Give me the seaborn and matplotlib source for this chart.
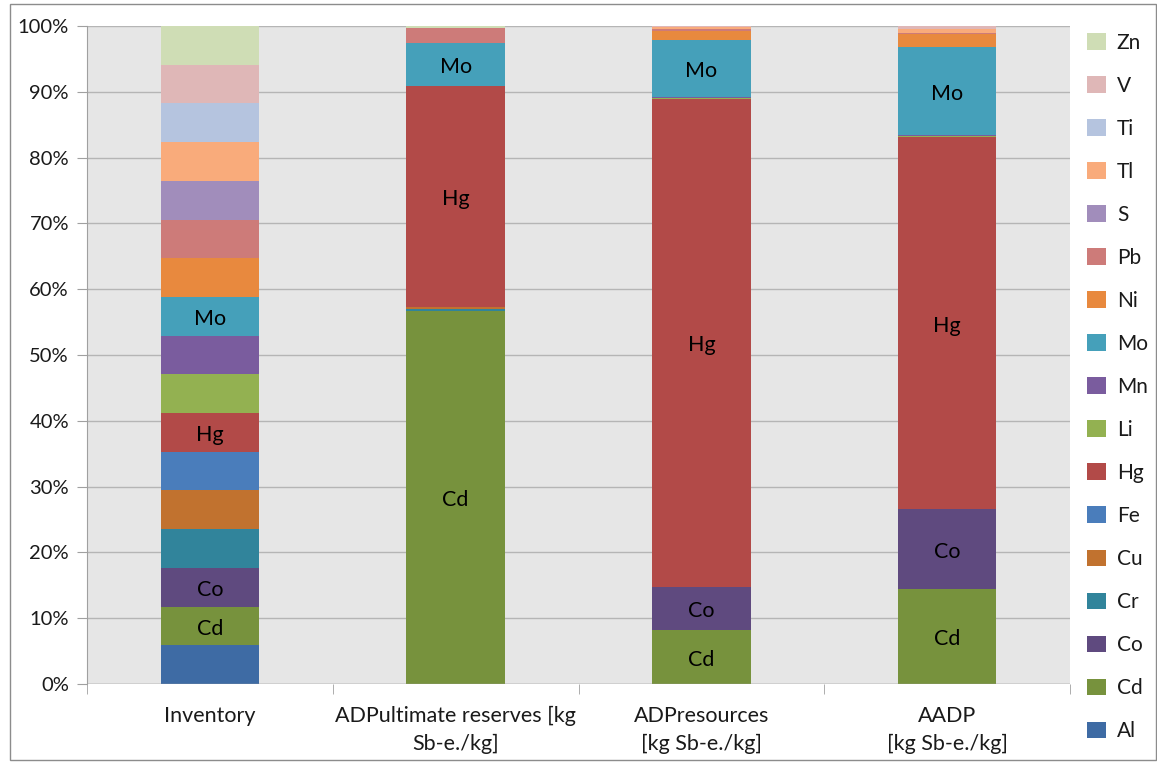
import matplotlib
matplotlib.use("Agg")
import matplotlib.pyplot as plt
from matplotlib.patches import Patch, Rectangle
from matplotlib.ticker import FixedLocator, PercentFormatter
import numpy as np
import seaborn as sns

# Categories on the x axis
categories = [
    "Inventory",
    "ADPultimate reserves [kg\nSb-e./kg]",
    "ADPresources\n[kg Sb-e./kg]",
    "AADP\n[kg Sb-e./kg]",
]

# Elements, bottom of the stack first
elements = ["Al", "Cd", "Co", "Cr", "Cu", "Fe", "Hg", "Li", "Mn", "Mo",
            "Ni", "Pb", "S", "Tl", "Ti", "V", "Zn"]

# Share of each element (%) per category
inventory = [100 / 17] * 17
adp_ultimate = [0, 56.7, 0.05, 0.3, 0.3, 0, 33.6, 0, 0, 6.5,
                0, 2.3, 0, 0, 0, 0, 0.25]
adp_resources = [0, 8.2, 6.5, 0.05, 0.05, 0, 74.1, 0.2, 0.1, 8.6,
                 1.4, 0.3, 0, 0.4, 0, 0.1, 0]
aadp = [0, 14.4, 12.2, 0, 0, 0, 56.5, 0.2, 0.1, 13.4,
        2.0, 0.1, 0, 0.6, 0, 0.5, 0]

# Elements that get a text label inside their segment
labelled = ["Cd", "Co", "Hg", "Mo"]

colors = {
    "Al": "#3E6BA4", "Cd": "#77923D", "Co": "#5F4A7F", "Cr": "#31849B",
    "Cu": "#C1722F", "Fe": "#4A7DBB", "Hg": "#B24A48", "Li": "#93B151",
    "Mn": "#7A5C9E", "Mo": "#45A0BA", "Ni": "#E8893E", "Pb": "#CD7B79",
    "S": "#A18DBB", "Tl": "#F9AB7B", "Ti": "#B5C4DF", "V": "#DFB7B7",
    "Zn": "#CFDDB5",
}

font = "Lato"
plt.rcParams["font.family"] = [font, "DejaVu Sans"]

values = np.array([inventory, adp_ultimate, adp_resources, aadp])  # (cat, elem)
cum = np.cumsum(values, axis=1)

fig = plt.figure(figsize=(11.57, 7.64), dpi=100)
fig.patch.set_facecolor("white")
ax = fig.add_axes([0.0752, 0.1047, 0.8496, 0.8613])
ax.set_facecolor("#E6E6E6")

# Draw cumulative bars from the top of the stack downwards
for j in range(len(elements) - 1, -1, -1):
    sns.barplot(x=categories, y=cum[:, j], color=colors[elements[j]],
                saturation=1, width=0.4, ax=ax, linewidth=0, zorder=3)

# Segment labels
for i in range(len(categories)):
    for j, el in enumerate(elements):
        if el in labelled and values[i, j] >= 3:
            mid = cum[i, j] - values[i, j] / 2
            ax.text(i, mid - 0.4, el, ha="center", va="center", fontsize=15.5,
                    color="black", zorder=5)

ax.set_xlim(-0.5, 3.5)
ax.set_ylim(0, 100)
ax.yaxis.set_major_locator(FixedLocator(np.arange(0, 101, 10)))
ax.yaxis.set_major_formatter(PercentFormatter(decimals=0))
ax.grid(axis="y", color="#B5B5B5", linewidth=1, zorder=0)
ax.grid(axis="x", visible=False)
ax.set_axisbelow(True)

for side in ["top", "right", "bottom"]:
    ax.spines[side].set_visible(False)
ax.spines["left"].set_color("#A0A0A0")
ax.axhline(0, color="#A0A0A0", linewidth=1, zorder=4)

ax.tick_params(axis="y", length=7, color="#A0A0A0", labelsize=14.5,
               labelcolor="#1A1A1A", pad=6)
ax.set_xticks(range(len(categories)))
ax.set_xticklabels(categories, fontsize=15.5, color="#1A1A1A",
                   linespacing=1.45)
ax.tick_params(axis="x", which="major", length=0, pad=16)
ax.set_xticks(np.arange(-0.5, 3.6, 1), minor=True)
ax.tick_params(axis="x", which="minor", length=7, color="#A0A0A0")
ax.set_xlabel("")
ax.set_ylabel("")

# Legend, top of the stack first
handles = [Patch(facecolor=colors[e], edgecolor="none") for e in elements[::-1]]
leg = fig.legend(handles, elements[::-1], loc="upper left",
                 bbox_to_anchor=(0.932, 0.968), frameon=False, fontsize=15,
                 handlelength=0.95, handleheight=0.85, handletextpad=0.5,
                 labelspacing=1.105, borderaxespad=0)
for t in leg.get_texts():
    t.set_color("#1A1A1A")

# Chart frame
fig.patches.append(Rectangle((10 / 1157, 4 / 764), 1 - 11 / 1157, 1 - 8 / 764,
                             transform=fig.transFigure, fill=False,
                             edgecolor="#8C8C8C", linewidth=1))

fig.savefig("out.png", dpi=100)
